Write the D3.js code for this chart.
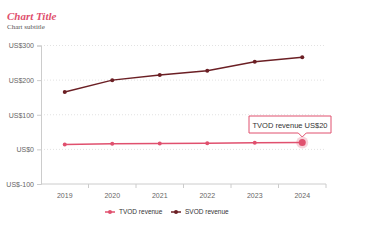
<!DOCTYPE html>
<html>
<head>
<meta charset="utf-8">
<script src="https://cdn.jsdelivr.net/npm/d3@7"></script>
<style>
  body { margin: 0; background: #fff; }
  svg { display: block; }
</style>
</head>
<body>
<script>
var years = ["2019", "2020", "2021", "2022", "2023", "2024"];
var tvodValues = [14, 16, 17, 18, 19, 20];
var svodValues = [166, 200, 215, 227, 253, 266];
var yTicks = [-100, 0, 100, 200, 300];
var seriesNames = ["TVOD revenue", "SVOD revenue"];
var seriesColors = ["#e0506e", "#6b1f24"];

var width = 381, height = 250;
var plot = { left: 41, right: 326, top: 45.5, bottom: 184 };

var svg = d3.select("body").append("svg")
            .attr("width", width)
            .attr("height", height);

svg.append("rect").attr("width", width).attr("height", height).style("fill", "#fff");

// Title
svg.append("text").attr("x", 7).attr("y", 20)
   .text("Chart Title")
   .style("font-family", "Liberation Serif, DejaVu Serif, serif")
   .style("font-weight", "bold").style("font-style", "italic")
   .style("font-size", "11px").style("fill", "#e0506e");

svg.append("text").attr("x", 7).attr("y", 29)
   .text("Chart subtitle")
   .style("font-family", "Liberation Serif, DejaVu Serif, serif")
   .style("font-size", "7px").style("fill", "#555");

// Scales
var xScale = d3.scaleBand().domain(years).range([plot.left, plot.right]).padding(0);
var yScale = d3.scaleLinear().domain([-100, 300]).range([plot.bottom, plot.top]);
var cx = function(d) { return xScale(d) + xScale.bandwidth() / 2; };

// Grid lines
svg.append("g").selectAll("line").data(yTicks.filter(function(t) { return t > -100; }))
   .enter().append("line")
   .attr("x1", plot.left).attr("x2", plot.right)
   .attr("y1", function(d) { return yScale(d); })
   .attr("y2", function(d) { return yScale(d); })
   .style("stroke", "#e2e2e2").style("stroke-width", 1)
   .style("stroke-dasharray", "1,2");

// Y axis
var yAxis = d3.axisLeft(yScale).tickValues(yTicks).tickSize(4)
              .tickFormat(function(d) { return "US$" + d; });
var yG = svg.append("g").attr("transform", "translate(" + plot.left + ",0)").call(yAxis);
yG.select(".domain").style("stroke", "#ccc");
yG.selectAll(".tick line").style("stroke", "#ccc");
yG.selectAll(".tick text").style("fill", "#666").style("font-size", "7px")
  .style("font-family", "Liberation Sans, Arial, sans-serif").attr("x", -7);

// X axis
var xAxis = d3.axisBottom(xScale).tickSize(0).tickPadding(9);
var xG = svg.append("g").attr("transform", "translate(0," + plot.bottom + ")").call(xAxis);
xG.select(".domain").remove();
xG.append("line").attr("x1", plot.left).attr("x2", plot.right)
  .style("stroke", "#ccc");
xG.selectAll(".tick text").style("fill", "#666").style("font-size", "7px")
  .style("font-family", "Liberation Sans, Arial, sans-serif");
xG.selectAll(".bound").data(years.slice(1).concat(["end"])).enter().append("line")
  .attr("class", "bound")
  .attr("x1", function(d) { return d === "end" ? plot.right : xScale(d); })
  .attr("x2", function(d) { return d === "end" ? plot.right : xScale(d); })
  .attr("y1", 0).attr("y2", 4)
  .style("stroke", "#ccc");

// Lines
var line = d3.line().x(function(d, i) { return cx(years[i]); })
                    .y(function(d) { return yScale(d); });

[tvodValues, svodValues].forEach(function(vals, s) {
  svg.append("path").datum(vals).attr("d", line)
     .style("fill", "none").style("stroke", seriesColors[s]).style("stroke-width", 1.5);
  svg.append("g").selectAll("circle").data(vals).enter().append("circle")
     .attr("cx", function(d, i) { return cx(years[i]); })
     .attr("cy", function(d) { return yScale(d); })
     .attr("r", 2)
     .style("fill", seriesColors[s]);
});

// Hover highlight on last TVOD point
var last = tvodValues.length - 1;
var hx = cx(years[last]), hy = yScale(tvodValues[last]);
svg.append("circle").attr("cx", hx).attr("cy", hy).attr("r", 6)
   .style("fill", "#e0506e").style("opacity", 0.25);
svg.append("circle").attr("cx", hx).attr("cy", hy).attr("r", 3.5)
   .style("fill", "#e0506e");

// Tooltip
var tip = svg.append("g");
var tx = 249, ty = 116, tw = 82, th = 17;
tip.append("path")
   .attr("d", "M" + tx + "," + ty + " h" + tw + " v" + th +
              " H" + (hx + 4) + " L" + hx + "," + (ty + th + 4) + " L" + (hx - 4) + "," + (ty + th) +
              " H" + tx + " Z")
   .style("fill", "#fff").style("stroke", "#e0506e").style("stroke-width", 1);
tip.append("text").attr("x", tx + tw / 2).attr("y", ty + 11.5)
   .attr("text-anchor", "middle")
   .text(seriesNames[0] + " US$" + tvodValues[last])
   .style("font-family", "Liberation Sans, Arial, sans-serif")
   .style("font-size", "7.5px").style("fill", "#333");

// Legend
var legendX = [110, 176];
seriesNames.forEach(function(name, s) {
  var g = svg.append("g").attr("transform", "translate(" + legendX[s] + ",212)");
  g.append("line").attr("x1", -5).attr("x2", 5)
   .style("stroke", seriesColors[s]).style("stroke-width", 1.5);
  g.append("circle").attr("r", 2).style("fill", seriesColors[s]);
  g.append("text").attr("x", 9).attr("y", 2.3).text(name)
   .style("font-family", "Liberation Sans, Arial, sans-serif")
   .style("font-size", "6.5px").style("fill", "#333");
});
</script>
</body>
</html>
